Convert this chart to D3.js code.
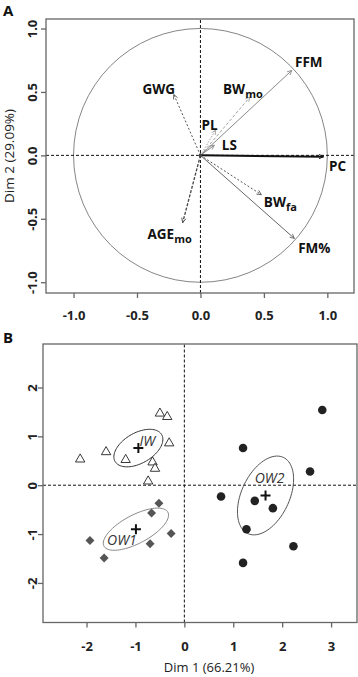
<!DOCTYPE html>
<html><head><meta charset="utf-8">
<script src="https://cdn.jsdelivr.net/npm/d3@7"></script>
<style>
html,body{margin:0;padding:0;background:#fff;}
svg{display:block;}
text{font-family:"Open Sans","DejaVu Sans",sans-serif;}
</style></head>
<body>
<svg id="chart" width="358" height="677"></svg>
<script>
// ---------- Panel A data: variable correlation circle ----------
const varNames = ["FFM","BW","PL","LS","PC","BW","FM%","GWG","AGE"];
const varSubs  = ["","mo","","","","fa","","","mo"];
const varDim1  = [0.72, 0.39, 0.12, 0.11, 0.97, 0.48, 0.74, -0.21, -0.14];
const varDim2  = [0.67, 0.46, 0.20, 0.08, -0.01, -0.31, -0.655, 0.48, -0.53];
const ticksA   = [-1.0, -0.5, 0.0, 0.5, 1.0];

// ---------- Panel B data: individuals ----------
const iwX  = [-2.13, -1.60, -1.20, -0.50, -0.35, -0.31, -0.65, -0.60, -0.74];
const iwY  = [0.53, 0.68, 0.52, 1.47, 1.40, 0.86, 0.47, 0.34, 0.08];
const ow1X = [-1.93, -1.64, -0.52, -0.67, -0.27, -0.70];
const ow1Y = [-1.13, -1.49, -0.37, -0.57, -0.99, -1.20];
const ow2X = [2.82, 1.20, 2.57, 0.75, 1.44, 1.81, 1.27, 2.23, 1.20];
const ow2Y = [1.54, 0.76, 0.28, -0.23, -0.32, -0.47, -0.90, -1.25, -1.59];
const groupNames = ["IW","OW1","OW2"];
const groupCx = [-0.94, -0.99, 1.66];
const groupCy = [0.76, -0.90, -0.21];
const ellA = [0.55, 0.74, 0.86];     // semi-major (data units)
const ellB = [0.31, 0.29, 0.49];     // semi-minor
const ellAngle = [30, 28, 65];       // degrees
const ticksBx = [-2, -1, 0, 1, 2, 3];
const ticksBy = [-2, -1, 0, 1, 2];

// ---------- styles (not data) ----------
const varStyle = [
  {c:"#8a8a8a", d:null,      w:1},
  {c:"#a0a0a0", d:"3,2",     w:1},
  {c:"#a0a0a0", d:"1.5,1.5", w:1},
  {c:"#8a8a8a", d:null,      w:1},
  {c:"#111",    d:null,      w:2},
  {c:"#555",    d:"2,2",     w:1},
  {c:"#666",    d:null,      w:1},
  {c:"#555",    d:"2,2",     w:1},
  {c:"#444",    d:"3,1.5",   w:1.3}
];
const labelOff = [[17,-8],[-7,-8],[-6,-5],[15,0],[14,10],[19,8],[20,10],[-15,-5],[-13,12]];
const groupLabelOff = [[9,-7],[-14,11],[4,-17]];

const svg = d3.select("#chart");
const tickFont = "13px";

// ================= Panel A =================
const xA = d3.scaleLinear().domain([-1.217, 1.21]).range([46, 354]);
const yA = d3.scaleLinear().domain([-1.085, 1.075]).range([293, 19]);
const gA = svg.append("g");

gA.append("text").attr("x", 3).attr("y", 16).text("A")
  .attr("font-size", "15px").attr("font-weight", "bold").attr("fill", "#111");

gA.append("circle").attr("cx", xA(0)).attr("cy", yA(0))
  .attr("r", xA(1) - xA(0)).attr("fill", "none").attr("stroke", "#777").attr("stroke-width", 0.9);

gA.append("line").attr("x1", xA.range()[0]).attr("x2", xA.range()[1]).attr("y1", yA(0)).attr("y2", yA(0))
  .attr("stroke", "#111").attr("stroke-dasharray", "3,2");
gA.append("line").attr("y1", yA.range()[0]).attr("y2", yA.range()[1]).attr("x1", xA(0)).attr("x2", xA(0))
  .attr("stroke", "#111").attr("stroke-dasharray", "3,2");

varNames.forEach((n, i) => {
  const st = varStyle[i];
  const x0 = xA(0), y0 = yA(0), x1 = xA(varDim1[i]), y1 = yA(varDim2[i]);
  const ln = gA.append("line").attr("x1", x0).attr("y1", y0).attr("x2", x1).attr("y2", y1)
    .attr("stroke", st.c).attr("stroke-width", st.w);
  if (st.d) ln.attr("stroke-dasharray", st.d);
  const ang = Math.atan2(y1 - y0, x1 - x0), L = 5, spread = 0.45;
  const p = d3.path();
  p.moveTo(x1 - L * Math.cos(ang - spread), y1 - L * Math.sin(ang - spread));
  p.lineTo(x1, y1);
  p.lineTo(x1 - L * Math.cos(ang + spread), y1 - L * Math.sin(ang + spread));
  gA.append("path").attr("d", p.toString()).attr("fill", "none").attr("stroke", st.c).attr("stroke-width", 0.9);
  const t = gA.append("text").attr("x", x1 + labelOff[i][0]).attr("y", y1 + labelOff[i][1])
    .attr("text-anchor", "middle").attr("dy", "0.35em")
    .attr("font-size", "13.5px").attr("font-weight", "bold").attr("fill", "#111");
  t.append("tspan").text(n);
  if (varSubs[i]) t.append("tspan").attr("dy", "0.35em").attr("font-size", "11px").text(varSubs[i]);
  gA.append("circle").attr("cx", x0).attr("cy", y0).attr("r", 1.5).attr("fill", "#444");
});

gA.append("rect").attr("x", 46).attr("y", 19).attr("width", 308).attr("height", 274)
  .attr("fill", "none").attr("stroke", "#666").attr("stroke-width", 1.3);

const axA = gA.append("g").attr("transform", `translate(0,${yA.range()[0]})`)
  .call(d3.axisBottom(xA).tickValues(ticksA).tickSize(5).tickFormat(d => d.toFixed(1)));
axA.select(".domain").remove();
axA.selectAll("line").attr("stroke", "#666").attr("stroke-width", 1.3);
axA.selectAll("text").attr("y", 22).attr("dy", "0.35em").attr("font-size", tickFont)
  .attr("font-weight", "bold").attr("fill", "#222");

const ayA = gA.append("g").attr("transform", `translate(${xA.range()[0]},0)`)
  .call(d3.axisLeft(yA).tickValues(ticksA).tickSize(5).tickFormat(d => d.toFixed(1)));
ayA.select(".domain").remove();
ayA.selectAll("line").attr("stroke", "#666").attr("stroke-width", 1.3);
ayA.selectAll("text").attr("x", null).attr("y", null)
  .attr("text-anchor", "middle").attr("font-size", tickFont).attr("font-weight", "bold").attr("fill", "#222")
  .attr("transform", "translate(-14,0) rotate(-90)").attr("dy", "0.35em");

gA.append("text").attr("transform", `translate(9,${(yA.range()[0] + yA.range()[1]) / 2}) rotate(-90)`)
  .attr("text-anchor", "middle").attr("dy", "0.35em").attr("font-size", "13.5px").attr("fill", "#222")
  .text("Dim 2 (29.09%)");

// ================= Panel B =================
const xB = d3.scaleLinear().domain([-2.89, 3.53]).range([43, 357]);
const yB = d3.scaleLinear().domain([-2.81, 2.89]).range([622.5, 344]);
const gB = svg.append("g");

gB.append("text").attr("x", 3).attr("y", 343).text("B")
  .attr("font-size", "15px").attr("font-weight", "bold").attr("fill", "#111");

gB.append("line").attr("x1", xB.range()[0]).attr("x2", xB.range()[1]).attr("y1", yB(0)).attr("y2", yB(0))
  .attr("stroke", "#111").attr("stroke-dasharray", "3,2");
gB.append("line").attr("y1", yB.range()[0]).attr("y2", yB.range()[1]).attr("x1", xB(0)).attr("x2", xB(0))
  .attr("stroke", "#111").attr("stroke-dasharray", "3,2");

const ellColors = ["#333", "#888", "#555"];
groupNames.forEach((g, i) => {
  const th = ellAngle[i] * Math.PI / 180;
  const pts = d3.range(0, 361, 4).map(k => {
    const t = k * Math.PI / 180;
    const ex = ellA[i] * Math.cos(t), ey = ellB[i] * Math.sin(t);
    return [xB(groupCx[i] + ex * Math.cos(th) - ey * Math.sin(th)),
            yB(groupCy[i] + ex * Math.sin(th) + ey * Math.cos(th))];
  });
  gB.append("path").attr("d", d3.line()(pts)).attr("fill", "none")
    .attr("stroke", ellColors[i]).attr("stroke-width", 1);
});

const tri = d3.symbol(d3.symbolTriangle, 38)();
iwX.forEach((x, i) => {
  gB.append("path").attr("d", tri).attr("transform", `translate(${xB(x)},${yB(iwY[i])})`)
    .attr("fill", "#fff").attr("stroke", "#222").attr("stroke-width", 0.9);
});
const sq = d3.symbol(d3.symbolSquare, 40)();
ow1X.forEach((x, i) => {
  gB.append("path").attr("d", sq).attr("transform", `translate(${xB(x)},${yB(ow1Y[i])}) rotate(45)`)
    .attr("fill", "#555");
});
ow2X.forEach((x, i) => {
  gB.append("circle").attr("cx", xB(x)).attr("cy", yB(ow2Y[i])).attr("r", 4.3).attr("fill", "#222");
});

groupNames.forEach((g, i) => {
  const cx = xB(groupCx[i]), cy = yB(groupCy[i]);
  gB.append("path").attr("d", `M${cx - 5},${cy}H${cx + 5}M${cx},${cy - 5}V${cy + 5}`)
    .attr("stroke", "#111").attr("stroke-width", 2);
  gB.append("text").attr("x", cx + groupLabelOff[i][0]).attr("y", cy + groupLabelOff[i][1])
    .attr("text-anchor", "middle").attr("dy", "0.35em").attr("font-size", "14px")
    .attr("font-style", "italic").attr("fill", "#333").text(g);
});

gB.append("rect").attr("x", 43).attr("y", 344).attr("width", 314).attr("height", 278.5)
  .attr("fill", "none").attr("stroke", "#666").attr("stroke-width", 1.3);

const axB = gB.append("g").attr("transform", `translate(0,${yB.range()[0]})`)
  .call(d3.axisBottom(xB).tickValues(ticksBx).tickSize(5).tickFormat(d => String(d)));
axB.select(".domain").remove();
axB.selectAll("line").attr("stroke", "#666").attr("stroke-width", 1.3);
axB.selectAll("text").attr("y", 24).attr("dy", "0.35em").attr("font-size", tickFont)
  .attr("font-weight", "bold").attr("fill", "#222");

const ayB = gB.append("g").attr("transform", `translate(${xB.range()[0]},0)`)
  .call(d3.axisLeft(yB).tickValues(ticksBy).tickSize(5).tickFormat(d => String(d)));
ayB.select(".domain").remove();
ayB.selectAll("line").attr("stroke", "#666").attr("stroke-width", 1.3);
ayB.selectAll("text").attr("x", null).attr("y", null)
  .attr("text-anchor", "middle").attr("font-size", tickFont).attr("font-weight", "bold").attr("fill", "#222")
  .attr("transform", "translate(-11,0) rotate(-90)").attr("dy", "0.35em");

gB.append("text").attr("x", 209).attr("y", 672).attr("text-anchor", "middle")
  .attr("font-size", "13px").attr("fill", "#222").text("Dim 1 (66.21%)");
</script>
</body></html>
